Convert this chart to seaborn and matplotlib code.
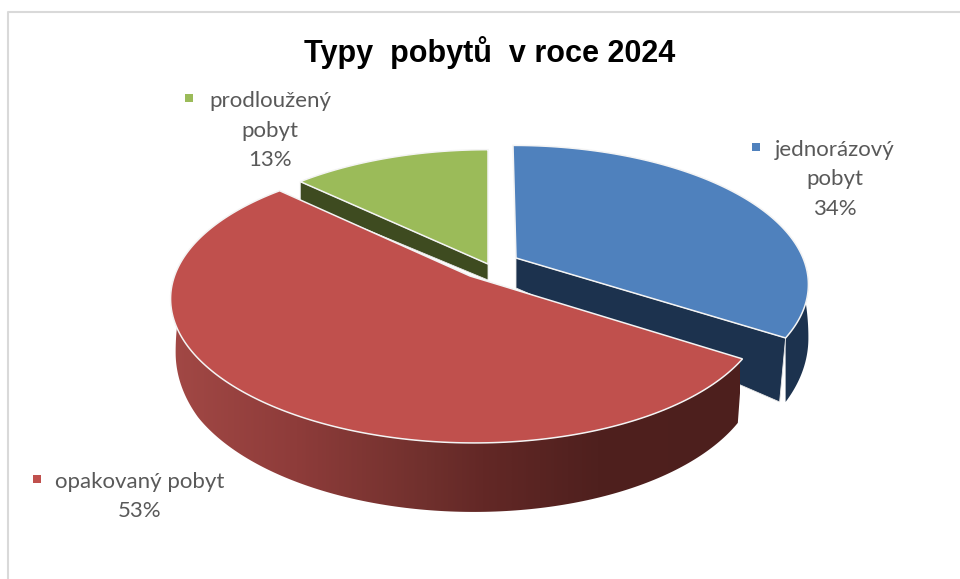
import numpy as np
import matplotlib
matplotlib.use("Agg")
import matplotlib.pyplot as plt
from matplotlib.colors import LinearSegmentedColormap
from matplotlib.patches import Polygon
import seaborn as sns

categories = ["jednorázový pobyt", "opakovaný pobyt", "prodloužený pobyt"]
values = [34, 53, 13]
title = "Typy  pobytů  v roce 2024"
label_lines = [["jednorázový", "pobyt", "34%"],
               ["opakovaný pobyt", "53%"],
               ["prodloužený", "pobyt", "13%"]]

sns.set_theme(style="white")
palette = sns.color_palette(["#4f81bd", "#c0504d", "#9bbb59"])
side_colors = ["#1c324e", "#4d1f1d", "#3e4b20"]
plt.rcParams["font.family"] = ["Lato", "DejaVu Sans"]

fig = plt.figure(figsize=(9.6, 5.79), dpi=100)
ax = fig.add_axes([0, 0, 1, 1])
ax.set_xlim(0, 960)
ax.set_ylim(579, 0)
ax.axis("off")

P = 0.19
geom = [dict(c=(513, 258), apex=(516, 258), A=290, B=134, tilt=0, shrink=0),
        dict(c=(468, 275), apex=(470, 276), A=292, B=136, tilt=0.01, shrink=0.017),
        dict(c=(488, 264), apex=(488, 264), A=291, B=136, tilt=0, shrink=0)]


def rim(g, t):
    sy = np.sin(t)
    w = 1 + P * sy
    x = g["A"] * np.cos(t) / w
    return g["c"][0] + x, g["c"][1] - g["B"] * sy / w + g["tilt"] * x


def depth(t):
    return np.interp(np.sin(t), [-1, -.536, -.2, 0, 1], [69, 64, 54, 30, 16])


def bottom(g, t):
    x, y = rim(g, t)
    return g["c"][0] + (x - g["c"][0]) * (1 - g["shrink"]), y + depth(t)


fractions = np.cumsum([0] + values) / sum(values)
angles = np.pi / 2 - 2 * np.pi * fractions
side_cmap = LinearSegmentedColormap.from_list(
    "side", [(0, "#a24845"), (0.22, "#8e3c3a"), (0.45, "#70302d"), (0.55, "#632826"),
             (0.75, "#4f201e"), (1, "#4d1f1d")])


def quad(p, col, z, edge="none", lw=0):
    pat = Polygon(p, closed=True, facecolor=col, edgecolor=edge, linewidth=lw, zorder=z)
    ax.add_patch(pat)
    return pat


def top(g, t0, t1, col, z):
    t = np.linspace(t0, t1, 200)
    x, y = rim(g, t)
    pts = np.vstack([[g["apex"]], np.column_stack([x, y])])
    quad(pts, col, z, edge="#f4f4f4", lw=1.1)


def outer_side(g, t0, t1, col, z):
    t = np.linspace(t0, t1, 200)
    x, y = rim(g, t)
    bx, by = bottom(g, t)
    pts = np.vstack([np.column_stack([x, y]), np.column_stack([bx, by])[::-1]])
    if col is not None:
        return quad(pts, col, z)
    clip = quad(pts, "none", z)
    grad = np.linspace(0, 1, 600).reshape(1, -1)
    im = ax.imshow(grad, extent=(170, 740, 540, 280), cmap=side_cmap, aspect="auto", zorder=z,
                   interpolation="bilinear")
    im.set_clip_path(clip)
    ax.set_xlim(0, 960)
    ax.set_ylim(579, 0)


def cut(g, t, d_apex, col, z, shift=0):
    ax_, ay = g["apex"]
    x, y = rim(g, t)
    d = depth(t)
    quad([(ax_, ay), (x, y), (x - shift, y + d), (ax_, ay + d_apex)], col, z, edge="#e8e8e8", lw=0.6)


# green slice (back)
g = geom[2]
cut(g, angles[2], 16, side_colors[2], 1)
top(g, angles[2], angles[3], palette[2], 2)

# blue slice
g = geom[0]
outer_side(g, angles[1], 0.02, side_colors[0], 3)
cut(g, angles[1], 30, side_colors[0], 4, shift=6)
top(g, angles[0], angles[1], palette[0], 5)

# red slice (front)
g = geom[1]
outer_side(g, angles[2] + 0.49, angles[1], None, 6)
top(g, angles[1], angles[2], palette[1], 7)

# frame
ax.plot([960, 8, 8], [12, 12, 579], color="#d9d9d9", lw=1.5, zorder=0, clip_on=False)

# title
ax.text(490, 53, title, ha="center", va="center", fontsize=22, fontweight="bold",
        family="Liberation Sans", color="black")

# labels
TXT = "#595959"
spots = [((835, 150), (756, 147), [150, 179, 209]),
         ((140, 482), (37, 479), [482, 511]),
         ((270, 101), (189, 98), [101, 131, 160])]
for lines, (pos, mk, ys), col in zip(label_lines, spots, palette):
    for s, yy in zip(lines, ys):
        ax.text(pos[0], yy, s, ha="center", va="center", fontsize=16, color=TXT)
    ax.scatter([mk[0]], [mk[1]], marker="s", s=30, color=col, linewidths=0, zorder=8)

fig.savefig("out.png", dpi=100, facecolor="white")
